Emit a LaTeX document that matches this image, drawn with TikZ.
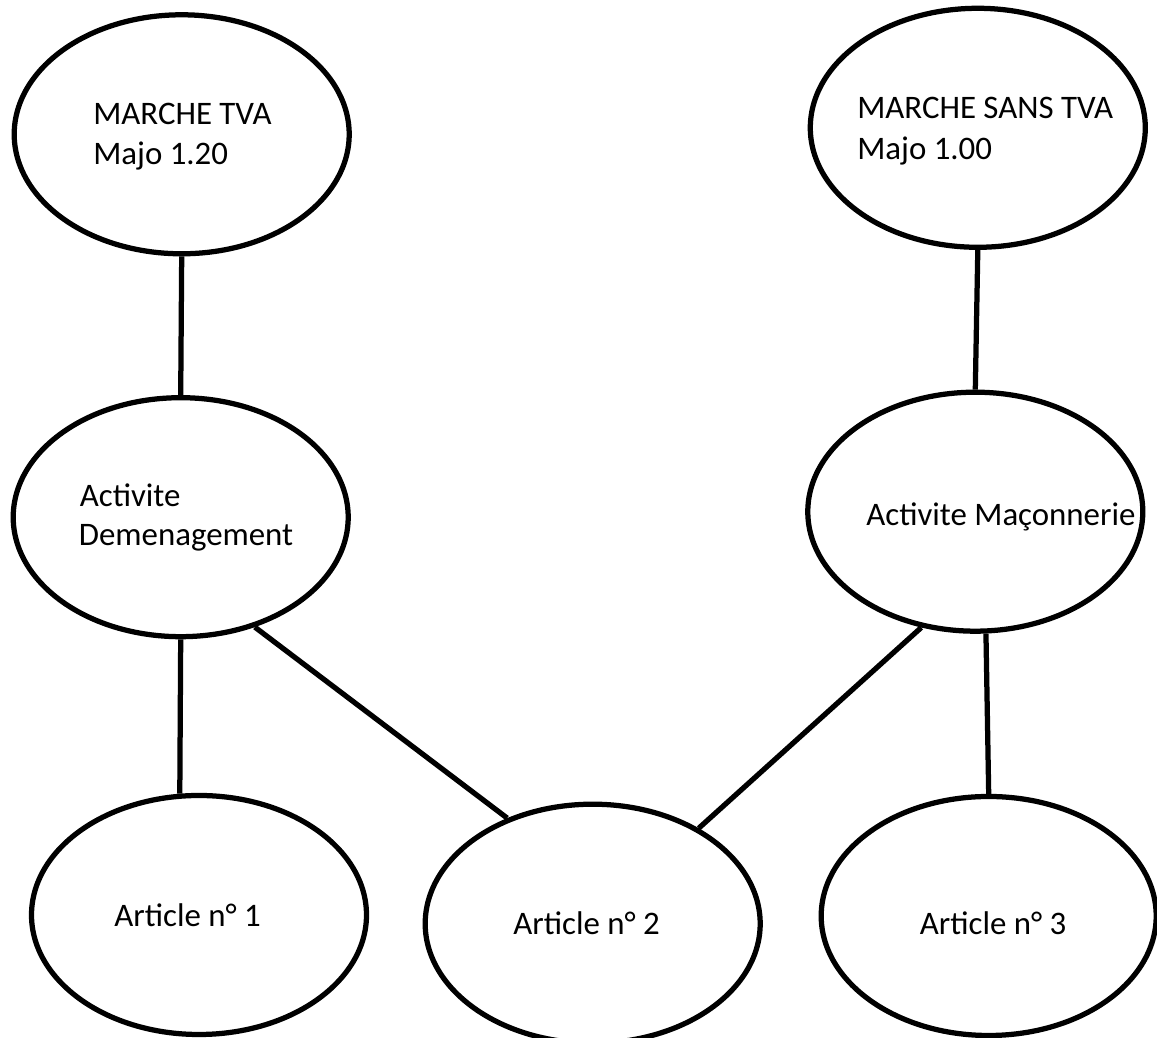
\documentclass[tikz,border=0pt]{standalone}
\usepackage{fontspec}
\setmainfont{Carlito}
\usetikzlibrary{shapes.geometric}

\begin{document}
\begin{tikzpicture}[
  bubble/.style={draw, ellipse, line width=0.105cm, minimum width=6.7cm, minimum height=4.78cm, inner sep=0pt},
  txt/.style={draw=none, inner sep=0pt, anchor=base west, font=\fontsize{18.7}{22}\selectfont},
  link/.style={line width=0.105cm}
]
\useasboundingbox (0,0) rectangle (23.14,20.76);

% Markets
\node [bubble] (tva) at (3.634,18.074) {};
\node [bubble] (sans) at (19.556,18.204) {};

% Activities
\node [bubble] (dem) at (3.614,10.416) {};
\node [bubble] (mac) at (19.506,10.526) {};

% Articles
\node [bubble] (art1) at (3.98,2.46) {};
\node [bubble] (art2) at (11.854,2.286) {};
\node [bubble] (art3) at (19.774,2.44) {};

\node [txt] (tvaA) at (1.86,18.274) {MARCHE TVA};
\node [txt] (tvaB) at (1.86,17.474) {Majo 1.20};

\node [txt] (sansA) at (17.14,18.394) {MARCHE SANS TVA};
\node [txt] (sansB) at (17.14,17.574) {Majo 1.00};

\node [txt] (demA) at (1.59,10.626) {Activite};
\node [txt] (demB) at (1.57,9.84) {Demenagement};

\node [txt] (macA) at (17.32,10.246) {Activite Maçonnerie};

\node [txt] (art1A) at (2.28,2.226) {Article n° 1};
\node [txt] (art2A) at (10.26,2.06) {Article n° 2};
\node [txt] (art3A) at (18.39,2.06) {Article n° 3};

\draw [link] (tva.south) -- (dem.north);
\draw [link] (sans.south) -- (mac.north);
\draw [link] (dem.south) -- (art1.99);
\draw [link] (dem.304) -- (art2.129); % shared article
\draw [link] (mac.245) -- (art2.42);
\draw [link] (mac.275) -- (art3.north);

\end{tikzpicture}
\end{document}
